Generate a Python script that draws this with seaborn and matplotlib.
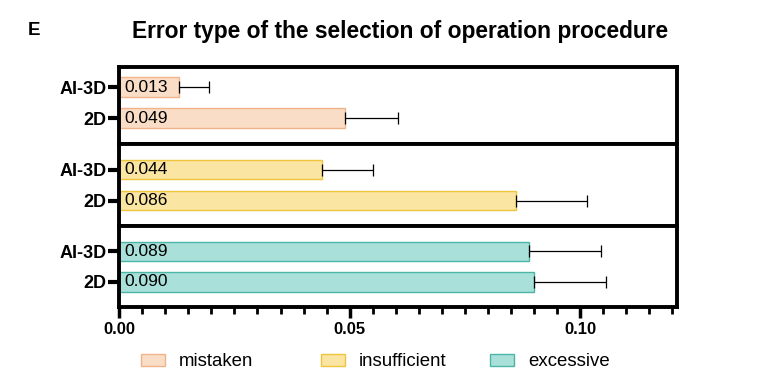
import pandas as pd
import matplotlib.pyplot as plt
import seaborn as sns
from matplotlib.patches import Patch
from matplotlib.ticker import MultipleLocator

# data
error_types = ["mistaken", "insufficient", "excessive"]
groups = ["AI-3D", "2D"]
mistaken_mean = [0.013, 0.049]
mistaken_sd = [0.0065, 0.0115]
insufficient_mean = [0.044, 0.086]
insufficient_sd = [0.011, 0.0155]
excessive_mean = [0.089, 0.090]
excessive_sd = [0.0155, 0.0155]
labels = [["0.013", "0.049"], ["0.044", "0.086"], ["0.089", "0.090"]]

fills = ["#FADDC6", "#FAE5A2", "#A9E1DA"]
edges = ["#F0B48A", "#EFC53E", "#4DB5A6"]

means = [mistaken_mean, insufficient_mean, excessive_mean]
sds = [mistaken_sd, insufficient_sd, excessive_sd]

sns.set_style("white")
plt.rcParams["font.family"] = ["Liberation Sans", "DejaVu Sans"]
plt.rcParams["text.color"] = "black"
plt.rcParams["xtick.color"] = "black"
plt.rcParams["ytick.color"] = "black"

fig = plt.figure(figsize=(7.59, 3.81), dpi=100)
gs = fig.add_gridspec(3, 1, left=0.157, right=0.892, top=0.824, bottom=0.194,
                      hspace=0, height_ratios=[77, 82, 81])
axes = [fig.add_subplot(gs[i]) for i in range(3)]

for i, ax in enumerate(axes):
    df = pd.DataFrame({"group": groups, "value": means[i]})
    sns.barplot(data=df, x="value", y="group", color=fills[i], saturation=1,
                edgecolor=edges[i], linewidth=1.0, width=0.63, ax=ax)
    for p in ax.patches:
        p.set_facecolor(fills[i])
    ax.errorbar(means[i], [0, 1], xerr=[[0, 0], sds[i]], fmt="none",
                ecolor="black", elinewidth=0.9, capsize=4, capthick=0.9)
    for j, txt in enumerate(labels[i]):
        ax.text(0.0012, j, txt, va="center", ha="left", fontsize=12.5)
    ax.set_xlim(0, 0.121)
    if i == 0:
        ax.set_ylim(1.84, -0.645)
    else:
        ax.set_ylim(1.82, -0.82)
    ax.set_xlabel("")
    ax.set_ylabel("")
    for s in ax.spines.values():
        s.set_linewidth(2.8)
        s.set_color("black")
    ax.tick_params(axis="y", length=8, width=3, labelsize=13, pad=1, left=True)
    for t in ax.get_yticklabels():
        t.set_fontweight("bold")
    if i < 2:
        ax.tick_params(axis="x", bottom=False, labelbottom=False)
    else:
        ax.xaxis.set_major_locator(MultipleLocator(0.05))
        ax.xaxis.set_minor_locator(MultipleLocator(0.005))
        ax.set_xticks([0, 0.05, 0.10])
        ax.set_xticklabels(["0.00", "0.05", "0.10"], fontweight="bold", fontsize=12)
        ax.tick_params(axis="x", which="major", length=8, width=2.5, bottom=True, pad=3)
        ax.tick_params(axis="x", which="minor", length=5, width=2, bottom=True)

fig.text(0.527, 0.918, "Error type of the selection of operation procedure",
         ha="center", va="center", fontsize=16.4, fontweight="bold")
fig.text(0.045, 0.92, "E", ha="center", va="center", fontsize=13.5, fontweight="bold")

# legend entries placed one by one (uneven spacing as in the original)
legend_x = [0.186, 0.423, 0.646]
for k in range(3):
    h = Patch(facecolor=fills[k], edgecolor=edges[k], linewidth=1.0)
    fig.legend([h], [error_types[k]], loc="center left", bbox_to_anchor=(legend_x[k], 0.05),
               frameon=False, fontsize=13.4, handlelength=1.29, handleheight=0.65,
               handletextpad=0.75, borderpad=0, borderaxespad=0)

plt.savefig("out.png", dpi=100)
